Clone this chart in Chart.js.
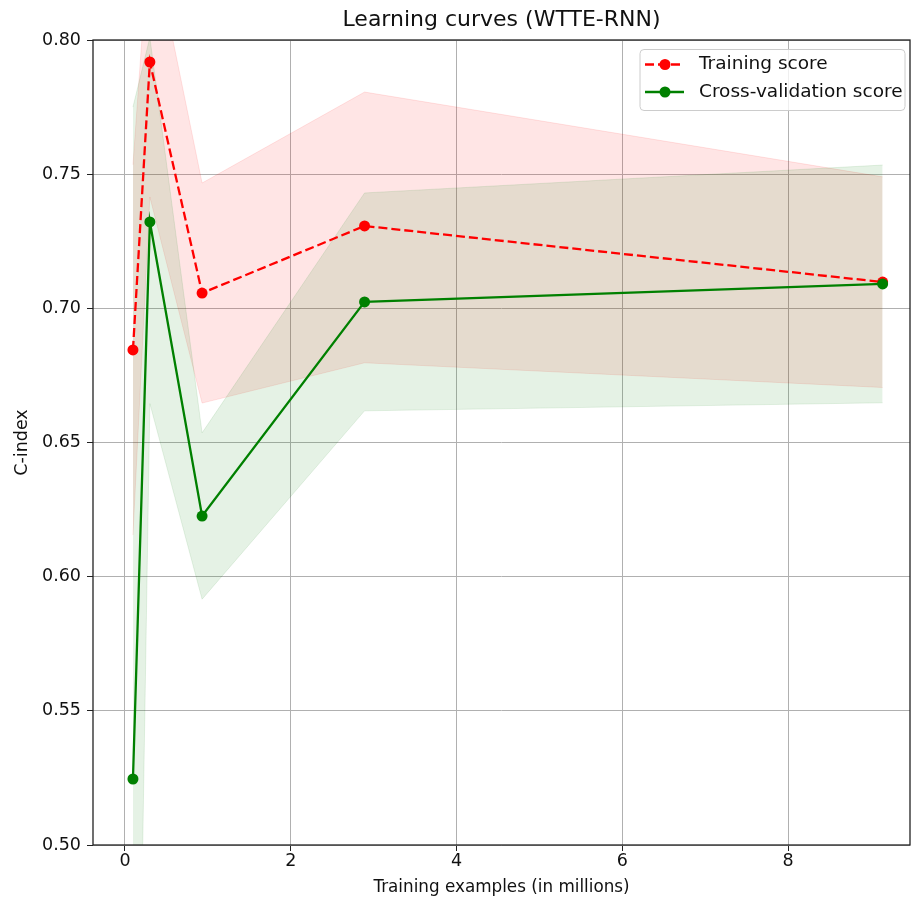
<!DOCTYPE html>
<html>
<head>
<meta charset="utf-8">
<script src="https://cdn.jsdelivr.net/npm/chart.js@4/dist/chart.umd.min.js"></script>
<style>
html,body{margin:0;padding:0;background:#fff;}
#wrap{width:911px;height:901px;position:relative;}
canvas{display:block;}
</style>
</head>
<body>
<div id="wrap"><canvas id="c" width="911" height="901"></canvas></div>
<script>
// ---- data ----
const trainSizes = [0.096, 0.30, 0.93, 2.89, 9.14];          // training examples (millions)
const trainMean  = [0.6845, 0.7918, 0.7057, 0.7307, 0.7098]; // Training score
const trainUpper = [0.7535, 0.842, 0.7467, 0.7806, 0.749];
const trainLower = [0.6155, 0.7415, 0.6647, 0.6797, 0.6705];
const cvMean     = [0.5246, 0.7322, 0.6226, 0.7024, 0.7091]; // Cross-validation score
const cvUpper    = [0.775, 0.801, 0.6536, 0.743, 0.7534];
const cvLower    = [0.275, 0.6645, 0.5916, 0.6618, 0.6648];
const xTicks     = [0, 2, 4, 6, 8];
const yTicks     = [0.50, 0.55, 0.60, 0.65, 0.70, 0.75, 0.80];
const X_MIN = -0.386, X_MAX = 9.47;

const FONT = 'DejaVu Sans';
const pts = (ys) => trainSizes.map((x, i) => ({x: x, y: ys[i]}));

const legendItems = [
  {label: 'Training score', color: '#ff0000', dash: [9, 4]},
  {label: 'Cross-validation score', color: '#008000', dash: []}
];

const framePlugin = {
  id: 'frameAndLegend',
  afterDraw(chart) {
    const ctx = chart.ctx, a = chart.chartArea;
    ctx.save();
    // spines
    ctx.strokeStyle = '#222';
    ctx.lineWidth = 1.3;
    ctx.strokeRect(a.left, a.top, a.right - a.left, a.bottom - a.top);
    // legend box
    const x0 = a.right - 270, y0 = a.top + 9.5, w = 265, h = 61, r = 4;
    ctx.beginPath();
    ctx.moveTo(x0 + r, y0);
    ctx.arcTo(x0 + w, y0, x0 + w, y0 + h, r);
    ctx.arcTo(x0 + w, y0 + h, x0, y0 + h, r);
    ctx.arcTo(x0, y0 + h, x0, y0, r);
    ctx.arcTo(x0, y0, x0 + w, y0, r);
    ctx.closePath();
    ctx.fillStyle = 'rgba(255,255,255,0.8)';
    ctx.fill();
    ctx.strokeStyle = '#cccccc';
    ctx.lineWidth = 1;
    ctx.stroke();
    legendItems.forEach((it, i) => {
      const cy = y0 + 15 + i * 27.5;
      ctx.strokeStyle = it.color;
      ctx.lineWidth = 2.3;
      ctx.setLineDash(it.dash);
      ctx.beginPath();
      ctx.moveTo(x0 + 5, cy);
      ctx.lineTo(x0 + 44, cy);
      ctx.stroke();
      ctx.setLineDash([]);
      ctx.fillStyle = it.color;
      ctx.beginPath();
      ctx.arc(x0 + 25, cy, 5.5, 0, Math.PI * 2);
      ctx.fill();
      ctx.fillStyle = '#111';
      ctx.font = '18.5px "' + FONT + '"';
      ctx.textBaseline = 'middle';
      ctx.textAlign = 'left';
      ctx.fillText(it.label, x0 + 59, cy);
    });
    ctx.restore();
  }
};

const noPts = {pointRadius: 0, pointHoverRadius: 0};

new Chart(document.getElementById('c'), {
  type: 'line',
  data: {
    datasets: [
      Object.assign({label: 'train upper', data: pts(trainUpper), fill: 1,
        backgroundColor: 'rgba(255,0,0,0.1)', borderColor: 'rgba(255,0,0,0.1)',
        borderWidth: 1, order: 4, clip: 0, tension: 0}, noPts),
      Object.assign({label: 'train lower', data: pts(trainLower), fill: false,
        borderColor: 'rgba(255,0,0,0.1)', borderWidth: 1, order: 4, clip: 0}, noPts),
      Object.assign({label: 'cv upper', data: pts(cvUpper), fill: 3,
        backgroundColor: 'rgba(0,128,0,0.1)', borderColor: 'rgba(0,128,0,0.1)',
        borderWidth: 1, order: 3, clip: 0}, noPts),
      Object.assign({label: 'cv lower', data: pts(cvLower), fill: false,
        borderColor: 'rgba(0,128,0,0.1)', borderWidth: 1, order: 3, clip: 0}, noPts),
      {label: 'Training score', data: pts(trainMean), fill: false,
        borderColor: '#ff0000', backgroundColor: '#ff0000', borderWidth: 2.3,
        borderDash: [9, 4], pointRadius: 5.5, pointBorderWidth: 0,
        pointBackgroundColor: '#ff0000', order: 1, clip: 0},
      {label: 'Cross-validation score', data: pts(cvMean), fill: false,
        borderColor: '#008000', backgroundColor: '#008000', borderWidth: 2.3,
        pointRadius: 5.5, pointBorderWidth: 0,
        pointBackgroundColor: '#008000', order: 0, clip: 0}
    ]
  },
  options: {
    responsive: false,
    animation: false,
    devicePixelRatio: 1,
    layout: {autoPadding: false, padding: {left: 0, right: 1, top: 0, bottom: 0}},
    plugins: {
      legend: {display: false},
      tooltip: {enabled: false},
      title: {
        display: true, text: 'Learning curves (WTTE-RNN)', fullSize: false,
        color: '#111', font: {family: FONT, size: 22, weight: 'normal', lineHeight: 1.2},
        padding: {top: 7, bottom: 6.6}
      },
      filler: {propagate: false}
    },
    scales: {
      x: {
        type: 'linear', min: X_MIN, max: X_MAX,
        afterBuildTicks: (s) => { s.ticks = xTicks.map(v => ({value: v})); },
        afterFit: (s) => { s.height = 56; },
        ticks: {color: '#111', font: {family: FONT, size: 17.5}, padding: 0,
          callback: (v) => String(v), maxRotation: 0, autoSkip: false},
        grid: {color: '#b0b0b0', tickColor: '#222', lineWidth: 1, tickLength: 6, drawTicks: true},
        border: {display: false},
        title: {display: true, text: 'Training examples (in millions)', color: '#111',
          font: {family: FONT, size: 16.8, lineHeight: 1.2}, padding: {top: 0, bottom: 3}}
      },
      y: {
        type: 'linear', min: 0.5, max: 0.8,
        afterBuildTicks: (s) => { s.ticks = yTicks.map(v => ({value: v})); },
        afterFit: (s) => { s.width = 93; },
        ticks: {color: '#111', font: {family: FONT, size: 17.5}, padding: 6,
          callback: (v) => Number(v).toFixed(2), autoSkip: false},
        grid: {color: '#b0b0b0', lineWidth: 1, tickLength: 6, tickColor: '#222', drawTicks: true},
        border: {display: false},
        title: {display: true, text: 'C-index', color: '#111',
          font: {family: FONT, size: 17.5, lineHeight: 1.2}, padding: {top: 11.5, bottom: 0}}
      }
    }
  },
  plugins: [framePlugin]
});
</script>
</body>
</html>
